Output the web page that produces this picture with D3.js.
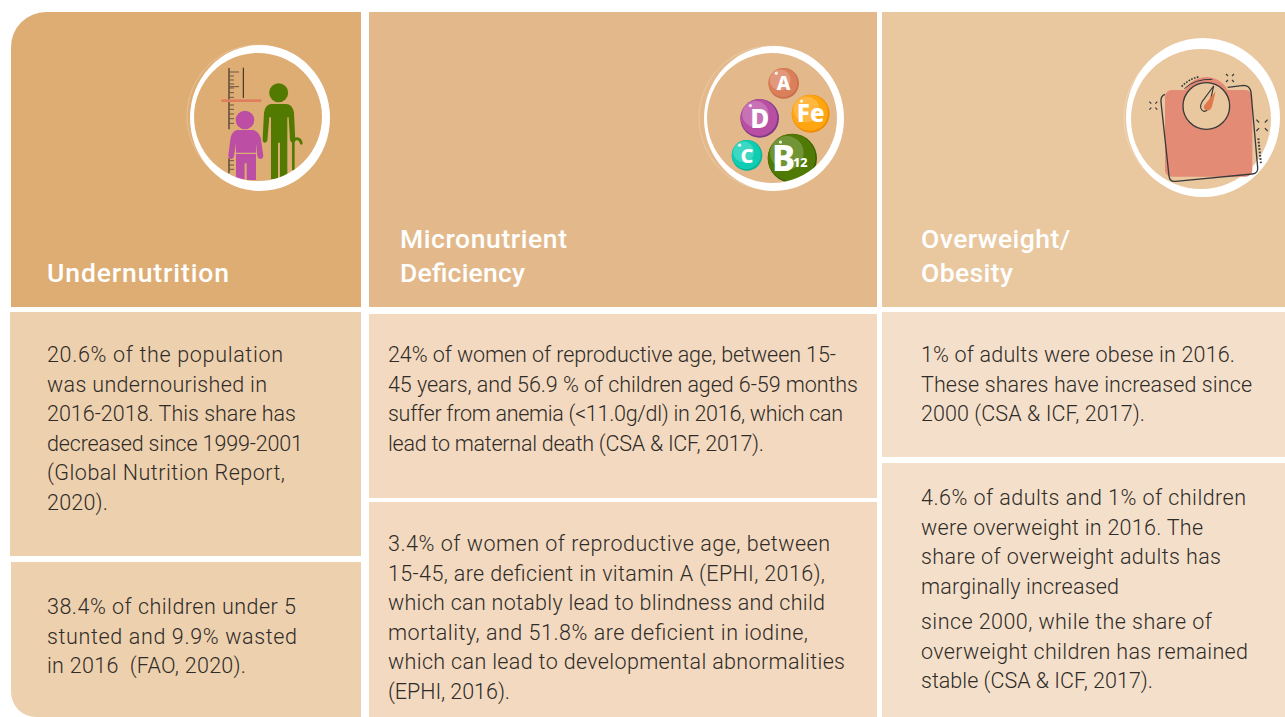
<!DOCTYPE html>
<html>
<head>
<meta charset="utf-8">
<script src="https://cdn.jsdelivr.net/npm/d3@7"></script>
<style>
  html, body { margin: 0; padding: 0; background: #fff; overflow: hidden; }
  svg { display: block; }
  .title { font-family: Roboto, sans-serif; font-weight: 500; fill: #fff; font-size: 26.5px; }
  .body { font-family: Roboto, sans-serif; font-weight: 300; fill: #2f2b28; font-size: 21.5px; }
  .letter { font-family: "Noto Sans", sans-serif; font-weight: 800; fill: #fff; text-anchor: middle; }
</style>
</head>
<body>
<script>
// text of the three columns
var titles = [
  ["Undernutrition"],
  ["Micronutrient", "Deficiency"],
  ["Overweight/", "Obesity"]
];

var undernutrition = [
  ["20.6% of the population", "was undernourished in", "2016-2018. This share has", "decreased since 1999-2001", "(Global Nutrition Report,", "2020)."],
  ["38.4% of children under 5", "stunted and 9.9% wasted", "in 2016  (FAO, 2020)."]
];
var micronutrient = [
  ["24% of women of reproductive age, between 15-", "45 years, and 56.9 % of children aged 6-59 months", "suffer from anemia (<11.0g/dl) in 2016, which can", "lead to maternal death (CSA & ICF, 2017)."],
  ["3.4% of women of reproductive age, between", "15-45, are deficient in vitamin A (EPHI, 2016),", "which can notably lead to blindness and child", "mortality, and 51.8% are deficient in iodine,", "which can lead to developmental abnormalities", "(EPHI, 2016)."]
];
var overweight = [
  ["1% of adults were obese in 2016.", "These shares have increased since", "2000 (CSA & ICF, 2017)."],
  ["4.6% of adults and 1% of children", "were overweight in 2016. The", "share of overweight adults has", "marginally increased"],
  ["since 2000, while the share of", "overweight children has remained", "stable (CSA & ICF, 2017)."]
];

var vitamins = ["A", "Fe", "D", "C", "B"];

var svg = d3.select("body").append("svg")
  .attr("width", 1285)
  .attr("height", 717);

// draws one block of lines from its first baseline, each line fitted to where it ends
function drawLines(lines, x, y, gap, ends, cls) {
  svg.append("g").selectAll("text")
    .data(lines)
    .enter().append("text")
    .attr("class", cls)
    .attr("x", x)
    .attr("y", function(d, i) { return y + i * gap; })
    .attr("textLength", function(d, i) { return ends[i] - x; })
    .attr("lengthAdjust", "spacing")
    .style("white-space", "pre")
    .text(function(d) { return d; });
}

function box(x0, y0, x1, y1, fill) {
  svg.append("rect")
    .attr("x", x0).attr("y", y0)
    .attr("width", x1 - x0).attr("height", y1 - y0)
    .attr("fill", fill);
}

// ------- panels -------
// first column has a rounded top left and bottom left corner
svg.append("path")
  .attr("d", "M11,47 A35,35 0 0 1 46,12 L361,12 L361,307 L11,307 Z")
  .attr("fill", "#dead74");
box(10, 312, 361, 556, "#edd0ae");
svg.append("path")
  .attr("d", "M11,562 L361,562 L361,717 L36,717 A25,25 0 0 1 11,692 Z")
  .attr("fill", "#edd0ae");

box(369, 12, 877, 307, "#e3b98b");
box(369, 314, 877, 498, "#f2d9bf");
box(369, 502, 877, 717, "#f2d9bf");

box(882, 12, 1285, 307, "#e9c8a0");
box(882, 312, 1285, 457, "#f4e0ca");
box(882, 463, 1285, 717, "#f4e0ca");

// ------- text -------
drawLines(titles[0], 47, 282, 34.5, [229], "title");
drawLines(titles[1], 400, 247.5, 34.5, [567, 525], "title");
drawLines(titles[2], 921, 247.5, 34.5, [1070, 1013], "title");

drawLines(undernutrition[0], 47, 362, 29.5, [283, 267, 296, 303, 285, 108], "body");
drawLines(undernutrition[1], 47, 614, 29.5, [296, 297, 246], "body");
drawLines(micronutrient[0], 388, 362, 29.5, [836, 858, 843, 764], "body");
drawLines(micronutrient[1], 388, 551, 29.5, [830, 825, 825, 808, 845, 510], "body");
drawLines(overweight[0], 921, 362, 29.5, [1235, 1252, 1145], "body");
drawLines(overweight[1], 921, 505, 29.5, [1246, 1203, 1221, 1119], "body");
drawLines(overweight[2], 921, 629, 29.5, [1212, 1248, 1153], "body");

// ------- icons -------
// white brush ring: outer and inner circle slightly off centre
function ring(ox, oy, orx, ory, ix, iy, ir) {
  var d = "M" + (ox - orx) + "," + oy + " a" + orx + "," + ory + " 0 1 0 " + (2 * orx) + ",0 a" + orx + "," + ory + " 0 1 0 " + (-2 * orx) + ",0 Z " +
          "M" + (ix - ir) + "," + iy + " a" + ir + "," + ir + " 0 1 0 " + (2 * ir) + ",0 a" + ir + "," + ir + " 0 1 0 " + (-2 * ir) + ",0 Z";
  svg.append("path").attr("d", d).attr("fill", "#fff").attr("fill-rule", "evenodd");
}

// people icon, drawn in crop coordinates (3x)
var g1 = svg.append("g").attr("transform", "translate(170,30) scale(0.3333)");
var ruler = g1.append("g").attr("stroke", "#6b5540").attr("fill", "none");
ruler.append("path").attr("d", "M177,114 V298 M177,385 V430").attr("stroke-width", 5);
[126, 138, 150, 162, 174, 188, 202, 225, 238, 252, 266, 280, 392, 405, 418].forEach(function(y, i) {
  ruler.append("path").attr("d", "M177," + y + " H" + (y == 126 || y == 170 ? 207 : 192)).attr("stroke-width", 3);
});
ruler.append("path").attr("d", "M177,170 H207").attr("stroke-width", 3);
g1.append("path").attr("d", "M220,113 V204").attr("stroke", "#2b1f14").attr("stroke-width", 3);
g1.append("rect").attr("x", 154).attr("y", 208).attr("width", 120).attr("height", 8).attr("fill", "#e07f5c");
// old man
g1.append("circle").attr("cx", 326).attr("cy", 188).attr("r", 28.5).attr("fill", "#527a00");
g1.append("path")
  .attr("d", "M303,222 H350 Q368,224 372,248 L376,332 Q374,340 366,338 Q360,336 360,328 L356,262 L352,262 L352,435 L330,442 L330,338 L324,338 L324,447 L303,447 L303,262 L298,262 L292,332 Q288,340 282,338 Q276,335 278,326 L282,248 Q286,224 303,222 Z")
  .attr("fill", "#527a00");
g1.append("path").attr("d", "M370,418 V335 Q372,326 382,326 Q392,328 394,340")
  .attr("fill", "none").attr("stroke", "#527a00").attr("stroke-width", 8).attr("stroke-linecap", "round");
// child
g1.append("circle").attr("cx", 225).attr("cy", 270).attr("r", 28).attr("fill", "#bc4fa3");
g1.append("path")
  .attr("d", "M200,300 H250 Q272,306 274,335 L280,378 Q278,388 270,387 Q264,386 262,378 L258,340 V368 H198 V340 L192,378 Q190,388 182,387 Q174,385 175,376 L180,335 Q182,306 200,300 Z")
  .attr("fill", "#bc4fa3");
g1.append("path").attr("d", "M198,372 H258 V450 H230 V400 H224 V448 H198 Z").attr("fill", "#bc4fa3");

// vitamin bubbles icon
var g2 = svg.append("g").attr("transform", "translate(690,30) scale(0.3333)");
var bubbleColor = { A: "#db7f5b", Fe: "#ffa510", D: "#b84fa3", C: "#0ecdb3", B: "#4e7a05" };
var bubbleRim = { A: "#c96f4d", Fe: "#f08c00", D: "#7e3a86", C: "#0bb39c", B: "#3c6200" };
var bubbleX = { A: 281, Fe: 362, D: 209, C: 171, B: 307 };
var bubbleY = { A: 160, Fe: 251, D: 265, C: 376, B: 385 };
var bubbleR = { A: 46, Fe: 57, D: 58, C: 46, B: 74 };
var bubbleFont = { A: 58, Fe: 72, D: 78, C: 60, B: 104 };

vitamins.forEach(function(v) {
  var cx = bubbleX[v], cy = bubbleY[v], r = bubbleR[v];
  g2.append("circle").attr("cx", cx).attr("cy", cy).attr("r", r).attr("fill", bubbleRim[v]);
  g2.append("circle").attr("cx", cx - 2).attr("cy", cy - 2).attr("r", r - 3).attr("fill", bubbleColor[v]);
  g2.append("circle").attr("cx", cx - r * 0.22).attr("cy", cy - r * 0.22).attr("r", r * 0.68).attr("fill", "#fff").attr("opacity", 0.2);
  g2.append("circle").attr("cx", cx - r * 0.48).attr("cy", cy - r * 0.66).attr("r", 5).attr("fill", "#fff").attr("opacity", 0.8);
  g2.append("text").attr("class", "letter")
    .attr("x", v == "B" ? cx - 26 : cx)
    .attr("y", cy + bubbleFont[v] * 0.36)
    .attr("font-size", bubbleFont[v])
    .text(v);
});
g2.append("text").attr("class", "letter").attr("x", 331).attr("y", 411).attr("font-size", 38).text("12");

// white rings, these two cover the feet of the figures
ring(260, 118, 70, 73, 258, 117, 64);
ring(774, 118.5, 70, 72.5, 772, 118, 65);
ring(1203, 117.5, 77, 79.5, 1201, 119, 70);

// hairlines outside the rings
[[258, 116, 71], [771, 118, 72], [1200, 118, 76]].forEach(function(h) {
  svg.append("circle").attr("cx", h[0]).attr("cy", h[1]).attr("r", h[2])
    .attr("fill", "none").attr("stroke", "#fff").attr("stroke-width", 0.6).attr("opacity", 0.4);
});

// weighing scale icon, sits over its ring
var g3 = svg.append("g").attr("transform", "translate(1105,30) scale(0.3333)");
var ink = "#3a3a3a";
g3.append("rect").attr("x", 180).attr("y", 180).attr("width", 262).attr("height", 260).attr("rx", 20).attr("fill", "#e38b75");
g3.append("path").attr("d", "M240,180 A72,72 0 0 1 368,180 Z").attr("fill", "#e38b75");
g3.append("path").attr("d", "M180,193 Q166,198 168,216 L192,438 Q194,456 212,454 L442,432 Q460,430 458,412 L438,186 Q434,166 416,166 L368,172")
  .attr("fill", "none").attr("stroke", ink).attr("stroke-width", 4);
g3.append("circle").attr("cx", 304).attr("cy", 228).attr("r", 70).attr("fill", "#e9c8a0").attr("stroke", ink).attr("stroke-width", 4);
g3.append("path").attr("d", "M238,176 Q270,146 322,148").attr("fill", "none").attr("stroke", ink).attr("stroke-width", 3);
g3.append("path").attr("d", "M230,170 Q252,146 284,140").attr("fill", "none").attr("stroke", ink).attr("stroke-width", 5).attr("stroke-dasharray", "5 4");
g3.append("path").attr("d", "M460,325 L468,402").attr("fill", "none").attr("stroke", ink).attr("stroke-width", 6).attr("stroke-dasharray", "5 5");
g3.append("path").attr("d", "M292,214 L326,168 L314,222 Q308,246 296,244 Q280,236 292,214 Z").attr("fill", "#e9c8a0").attr("stroke", ink).attr("stroke-width", 3.5);
g3.append("path").attr("d", "M298,226 L332,184 L322,226 Q318,244 306,241 Q292,238 298,226 Z").attr("fill", "#e1774c");

// small spark marks round the scale
[[145, 227, 12], [375, 144, 12], [471, 286, 17]].forEach(function(s) {
  var x = s[0], y = s[1], o = s[2], l = o * 0.5;
  g3.append("path")
    .attr("d", "M" + (x - o) + "," + (y - o) + " l" + l + "," + l + " M" + (x + o) + "," + (y - o) + " l" + (-l) + "," + l +
               " M" + (x - o) + "," + (y + o) + " l" + l + "," + (-l) + " M" + (x + o) + "," + (y + o) + " l" + (-l) + "," + (-l))
    .attr("stroke", ink).attr("stroke-width", 3.5);
});
</script>
</body>
</html>
